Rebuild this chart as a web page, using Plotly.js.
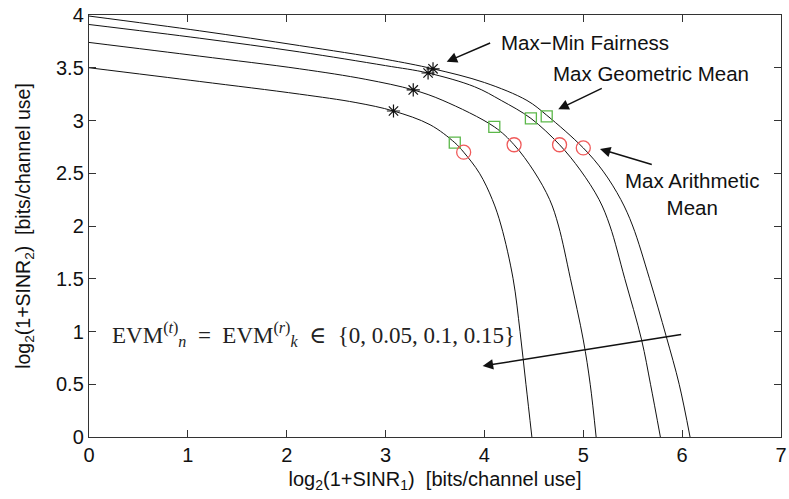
<!DOCTYPE html>
<html>
<head>
<meta charset="utf-8">
<script src="https://cdn.plot.ly/plotly-3.0.1.min.js"></script>
<style>html,body{margin:0;padding:0;background:#fff;}#chart{width:789px;height:499px;}</style>
</head>
<body>
<div id="chart"></div>
<script>
// Rate-region boundaries, one per EVM level (outermost = EVM 0)
const curve1X = [0, 1.12, 2.13, 3.0, 3.48, 4.0, 4.43, 4.63, 5.0, 5.2, 5.38, 5.5, 5.67, 5.84, 5.97, 6.08];
const curve1Y = [3.99, 3.85, 3.71, 3.58, 3.49, 3.36, 3.19, 3.05, 2.74, 2.52, 2.25, 2.0, 1.5, 0.95, 0.5, 0];
const curve2X = [0, 1.12, 2.13, 3.0, 3.43, 3.9, 4.17, 4.47, 4.76, 4.97, 5.16, 5.27, 5.42, 5.59, 5.68, 5.78];
const curve2Y = [3.91, 3.78, 3.65, 3.52, 3.45, 3.32, 3.19, 3.02, 2.77, 2.53, 2.25, 2.0, 1.5, 0.92, 0.5, 0];
const curve3X = [0, 1.12, 2.13, 2.8, 3.28, 3.58, 4.10, 4.30, 4.5, 4.66, 4.75, 4.87, 5.0, 5.07, 5.13];
const curve3Y = [3.74, 3.61, 3.49, 3.39, 3.29, 3.19, 2.94, 2.77, 2.52, 2.25, 2.0, 1.5, 0.92, 0.5, 0];
const curve4X = [0, 1.12, 2.13, 2.7, 3.08, 3.45, 3.70, 3.79, 3.95, 4.08, 4.17, 4.29, 4.36, 4.42, 4.48];
const curve4Y = [3.50, 3.37, 3.25, 3.17, 3.09, 2.96, 2.79, 2.70, 2.5, 2.25, 2.0, 1.5, 1.0, 0.5, 0];

// Operating points
const maxMinX = [3.08, 3.28, 3.43, 3.48];
const maxMinY = [3.09, 3.29, 3.45, 3.49];
const geoX = [3.70, 4.10, 4.47, 4.63];
const geoY = [2.79, 2.94, 3.02, 3.04];
const arithX = [3.79, 4.30, 4.76, 5.00];
const arithY = [2.70, 2.77, 2.77, 2.74];

// Tick values
const xTicks = [0, 1, 2, 3, 4, 5, 6, 7];
const yTicks = [0, 0.5, 1, 1.5, 2, 2.5, 3, 3.5, 4];

const curves = [[curve1X, curve1Y], [curve2X, curve2Y], [curve3X, curve3Y], [curve4X, curve4Y]];
const traces = curves.map(c => ({
  x: c[0], y: c[1], type: 'scatter', mode: 'lines',
  line: {color: '#111', width: 1, shape: 'spline', smoothing: 1},
  hoverinfo: 'skip', showlegend: false
}));
traces.push({x: maxMinX, y: maxMinY, type: 'scatter', mode: 'markers', showlegend: false,
  marker: {symbol: 'asterisk-open', size: 11, color: '#111', line: {color: '#111', width: 1.2}}});
traces.push({x: geoX, y: geoY, type: 'scatter', mode: 'markers', showlegend: false,
  marker: {symbol: 'square-open', size: 11, color: '#5cb84a', line: {color: '#5cb84a', width: 1.3}}});
traces.push({x: arithX, y: arithY, type: 'scatter', mode: 'markers', showlegend: false,
  marker: {symbol: 'circle-open', size: 14, color: '#f05a5a', line: {color: '#f05a5a', width: 1.3}}});

const arrow = (x, y, ax, ay) => ({
  x: x, y: y, ax: ax, ay: ay, xref: 'x', yref: 'y', axref: 'x', ayref: 'y',
  text: '', showarrow: true, arrowhead: 2, arrowsize: 1.4, arrowwidth: 1.5, arrowcolor: '#111'
});
const label = (x, y, text, xanchor, font) => ({
  x: x, y: y, xref: 'x', yref: 'y', text: text, showarrow: false,
  xanchor: xanchor, yanchor: 'middle', align: 'center',
  font: font || {family: 'Liberation Sans, Arial, sans-serif', size: 20.5, color: '#111'}
});

const layout = {
  width: 789, height: 499,
  margin: {l: 89, r: 8, t: 15, b: 62},
  paper_bgcolor: '#fff', plot_bgcolor: '#fff',
  font: {family: 'Liberation Sans, Arial, sans-serif', size: 20, color: '#111'},
  xaxis: {
    range: [0, 7], tickvals: xTicks, ticks: 'inside', ticklen: 7, tickcolor: '#333',
    showline: true, linecolor: '#333', linewidth: 1.2, mirror: 'ticks', showgrid: false, zeroline: false,
    tickfont: {size: 20},
    title: {text: 'log<sub>2</sub>(1+SINR<sub>1</sub>)  [bits/channel use]', font: {size: 20}, standoff: 6}
  },
  yaxis: {
    range: [0, 4], tickvals: yTicks, ticks: 'inside', ticklen: 7, tickcolor: '#333',
    showline: true, linecolor: '#333', linewidth: 1.2, mirror: 'ticks', showgrid: false, zeroline: false,
    tickfont: {size: 20},
    title: {text: 'log<sub>2</sub>(1+SINR<sub>2</sub>)  [bits/channel use]', font: {size: 19.5}, standoff: 20}
  },
  annotations: [
    arrow(3.618, 3.557, 4.073, 3.741),
    arrow(4.747, 3.106, 5.202, 3.311),
    arrow(5.169, 2.730, 5.708, 2.578),
    arrow(3.982, 0.673, 6.005, 0.973),
    label(4.147, 3.741, 'Max\u2212Min Fairness', 'left'),
    label(4.673, 3.441, 'Max Geometric Mean', 'left'),
    label(6.10, 2.303, 'Max Arithmetic<br>Mean', 'center'),
    label(0.212, 0.967, 'EVM<sup>(<i>t</i>)</sup><sub><i>n</i></sub>\u2002=\u2002EVM<sup>(<i>r</i>)</sup><sub><i>k</i></sub>\u2002\u2208\u2002{0, 0.05, 0.1, 0.15}', 'left',
      {family: 'Liberation Serif, DejaVu Serif, serif', size: 23, color: '#222'})
  ]
};

Plotly.newPlot('chart', traces, layout, {displayModeBar: false, staticPlot: true});
</script>
</body>
</html>
